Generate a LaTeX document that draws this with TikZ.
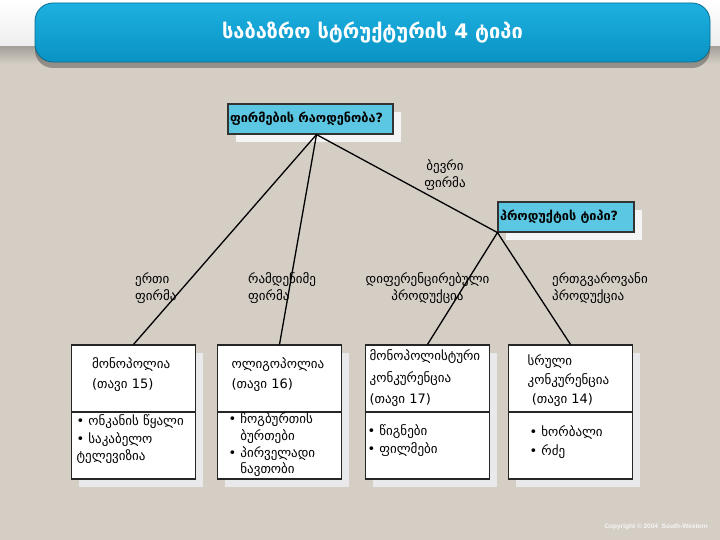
\documentclass[tikz,border=0pt]{standalone}
\usepackage{fontspec}
\setmainfont{DejaVu Sans}
\newfontfamily\latinfont{Liberation Sans}
\usetikzlibrary{positioning,shadows}

\definecolor{bgbeige}{HTML}{D4CEC5}
\definecolor{bartop}{HTML}{1DB0E0}
\definecolor{barbot}{HTML}{0993C4}
\definecolor{qcyan}{HTML}{5CC7E2}
\definecolor{qshadow}{HTML}{F4F4F4}
\definecolor{bshadow}{HTML}{E9E9EB}

\tikzset{
  titlebar/.style={rounded corners=18pt, top color=bartop, bottom color=barbot,
    draw=barbot!75!black, line width=.8pt,
    minimum width=675pt, minimum height=59pt, text=white,
    font=\bfseries\fontsize{20}{22}\selectfont,
    drop shadow={shadow xshift=0pt, shadow yshift=-6pt, fill=black, opacity=.3}},
  qbox/.style={draw=black!80, line width=1.1pt, fill=qcyan, minimum height=30pt,
    inner xsep=2pt, align=left, font=\bfseries\fontsize{12.7}{14}\selectfont,
    drop shadow={shadow xshift=8pt, shadow yshift=-8pt, fill=qshadow, opacity=1}},
  mbox/.style={draw=black!85, line width=1.1pt, fill=white,
    minimum width=124pt, minimum height=134pt,
    drop shadow={shadow xshift=7pt, shadow yshift=-8pt, fill=bshadow, opacity=1}},
  lbl/.style={inner sep=0pt, font=\fontsize{13}{17}\selectfont},
  toptxt/.style={anchor=west, inner sep=0pt, align=left},
  link/.style={line width=1.3pt}
}

\begin{document}
\begin{tikzpicture}[x=1pt, y=-1pt]
\useasboundingbox (0,0) rectangle (720,540);

% background
\fill[bgbeige] (0,0) rectangle (720,540);
\fill[top color=white, bottom color=black!7] (0,0) rectangle (720,47);
\fill[top color=black!22!bgbeige, bottom color=bgbeige] (0,47) rectangle (720,64);

\node[titlebar] (bar) at (372.5,32.5) {საბაზრო სტრუქტურის 4 ტიპი};

% questions
\node[qbox, text width=161pt] (qnum) at (310.5,119) {ფირმების რაოდენობა?};
\node[qbox, text width=132pt] (qprod) at (566,217) {პროდუქტის ტიპი?};

% market boxes
\node[mbox] (mono)  at (133.5,412) {};
\node[mbox] (oligo) at (279.5,412) {};
\node[mbox] (mcomp) at (427.5,412) {};
\node[mbox] (pcomp) at (570.5,412) {};

\foreach \b in {mono,oligo,mcomp,pcomp}
  \draw[line width=1.1pt, black!85] (\b.west) -- (\b.east);

\node[toptxt, font=\fontsize{13}{20}\selectfont] (monot)
  at ([shift={(21,-37)}]mono.west) {მონოპოლია\\(თავი 15)};
\node[toptxt, font=\fontsize{13}{17.5}\selectfont] (monoex)
  at ([shift={(5.5,27.5)}]mono.west) {• ონკანის წყალი\\• საკაბელო\\ტელევიზია};

\node[toptxt, font=\fontsize{13}{20}\selectfont] (oligot)
  at ([shift={(14.5,-37)}]oligo.west) {ოლიგოპოლია\\(თავი 16)};
\node[toptxt, font=\fontsize{13}{16.7}\selectfont] (oligoex)
  at ([shift={(11.5,33)}]oligo.west)
  {• ჩოგბურთის\\\phantom{• }ბურთები\\• პირველადი\\\phantom{• }ნავთობი};

\node[toptxt, font=\fontsize{13}{21.5}\selectfont] (mcompt)
  at ([shift={(4.5,-33.5)}]mcomp.west) {მონოპოლისტური\\კონკურენცია\\(თავი 17)};
\node[toptxt, font=\fontsize{13}{18}\selectfont] (mcompex)
  at ([shift={(2.5,29)}]mcomp.west) {• წიგნები\\• ფილმები};

\node[toptxt, font=\fontsize{13}{19}\selectfont] (pcompt)
  at ([shift={(19.5,-31)}]pcomp.west) {სრული\\კონკურენცია\\\ (თავი 14)};
\node[toptxt, font=\fontsize{13}{19}\selectfont] (pcompex)
  at ([shift={(21.5,30.5)}]pcomp.west) {• ხორბალი\\• რძე};

% connectors
\coordinate (fan) at ([xshift=6pt]qnum.south);
\draw[link] (fan) -- (mono.north);
\draw[link] (fan) -- (oligo.north);
\draw[link] (fan) -- (qprod.south west);
\draw[link] (qprod.south west) -- (mcomp.north);
\draw[link] (qprod.south west) -- (pcomp.north);

% branch labels
\node[lbl, align=center] (lmany) at (445,175) {ბევრი\\ფირმა};
\node[lbl, align=left, anchor=west] (lone) at (135,288) {ერთი\\ფირმა};
\node[lbl, align=left, anchor=west] (lfew) at (248,288) {რამდენიმე\\ფირმა};
\node[lbl, align=center] (ldiff) at (427.5,288) {დიფერენცირებული\\პროდუქცია};
\node[lbl, align=left, anchor=west] (lsame) at (552,288) {ერთგვაროვანი\\პროდუქცია};

\node[anchor=east, inner sep=0pt, text=white!80!bgbeige,
  font=\latinfont\bfseries\fontsize{6.5}{7}\selectfont] (copy)
  at (708,527) {Copyright © 2004 \ South-Western};
\end{tikzpicture}
\end{document}
